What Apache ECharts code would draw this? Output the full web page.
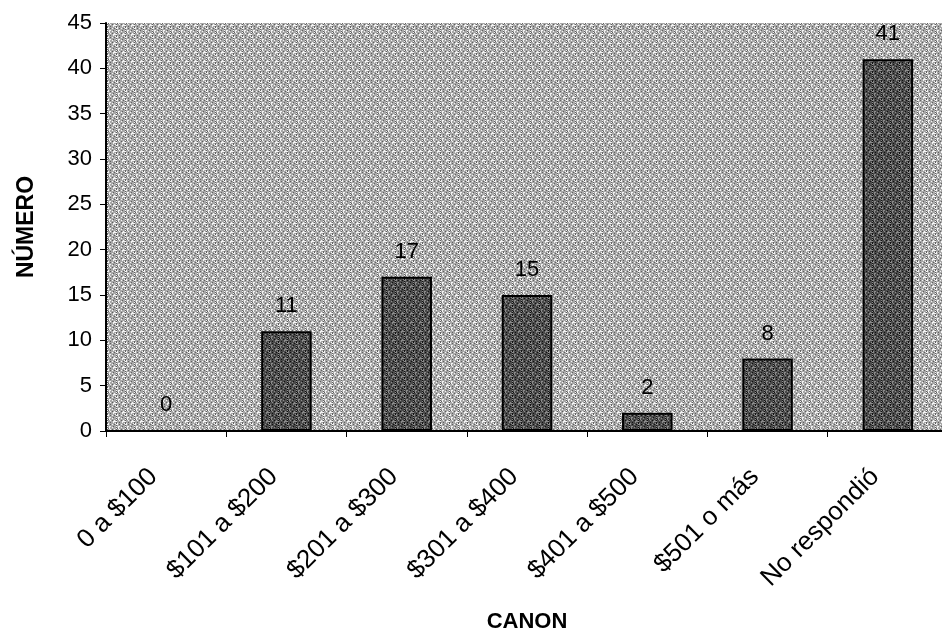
<!DOCTYPE html>
<html>
<head>
<meta charset="utf-8">
<script src="https://cdn.jsdelivr.net/npm/echarts@6/dist/echarts.min.js"></script>
<style>
html,body{margin:0;padding:0;background:#fff;}
#chart{width:942px;height:632px;}
</style>
</head>
<body>
<div id="chart"></div>
<script>
// Rent ranges and number of answers in each
const categories = ['0 a $100', '$101 a $200', '$201 a $300', '$301 a $400', '$401 a $500', '$501 o más', 'No respondió'];
const counts = [0, 11, 17, 15, 2, 8, 41];
const yTicks = [0, 5, 10, 15, 20, 25, 30, 35, 40, 45];

// Stippled fill: a small tile of dots over a base tone
function stipple(base, dark, light, size) {
  const c = document.createElement('canvas');
  c.width = size; c.height = size;
  const g = c.getContext('2d');
  g.fillStyle = base; g.fillRect(0, 0, size, size);
  for (let y = 0; y < size; y++) {
    for (let x = 0; x < size; x++) {
      const h = (x * 7 + y * 13 + ((x * y) % 5)) % 9;
      if (h === 0 || h === 4) { g.fillStyle = light; g.fillRect(x, y, 1, 1); }
      else if (h === 2) { g.fillStyle = dark; g.fillRect(x, y, 1, 1); }
    }
  }
  return c;
}

const chart = echarts.init(document.getElementById('chart'));
const FONT = 'Liberation Sans, Arial, sans-serif';
chart.setOption({
  animation: false,
  grid: {
    left: 106, right: -6, top: 23, bottom: 201,
    containLabel: false,
    outerBoundsMode: 'none',
    show: true, borderWidth: 0,
    backgroundColor: { image: stipple('#a8a8a8', '#606060', '#f4f4f4', 9), repeat: 'repeat' }
  },
  xAxis: {
    type: 'category',
    data: categories,
    name: 'CANON',
    nameLocation: 'middle',
    nameGap: 180,
    nameTextStyle: { fontFamily: FONT, fontWeight: 'bold', fontSize: 22, color: '#000' },
    axisLine: { lineStyle: { color: '#000', width: 2 } },
    axisTick: { show: true, alignWithLabel: false, length: 6, lineStyle: { color: '#000' } },
    axisLabel: { rotate: 45, fontFamily: FONT, fontSize: 26, color: '#000', margin: 29, padding: [0, 18, 0, 0] },
    splitLine: { show: false }
  },
  yAxis: {
    type: 'value',
    min: yTicks[0], max: yTicks[yTicks.length - 1], interval: 5,
    name: 'NÚMERO',
    nameLocation: 'middle',
    nameGap: 68,
    nameTextStyle: { fontFamily: FONT, fontWeight: 'bold', fontSize: 23, color: '#000' },
    axisLine: { show: true, lineStyle: { color: '#000', width: 2 } },
    axisTick: { show: true, length: 6, lineStyle: { color: '#000' } },
    axisLabel: { fontFamily: FONT, fontSize: 22, color: '#000', margin: 14 },
    splitLine: { show: false }
  },
  series: [{
    type: 'bar',
    data: counts,
    barWidth: '42%',
    itemStyle: {
      color: { image: stipple('#4a4a4a', '#111111', '#8c8c8c', 9), repeat: 'repeat' },
      borderColor: '#000', borderWidth: 2
    },
    label: {
      show: true, position: 'top', distance: 14,
      fontFamily: FONT, fontSize: 22, color: '#000'
    }
  }]
});
</script>
</body>
</html>
